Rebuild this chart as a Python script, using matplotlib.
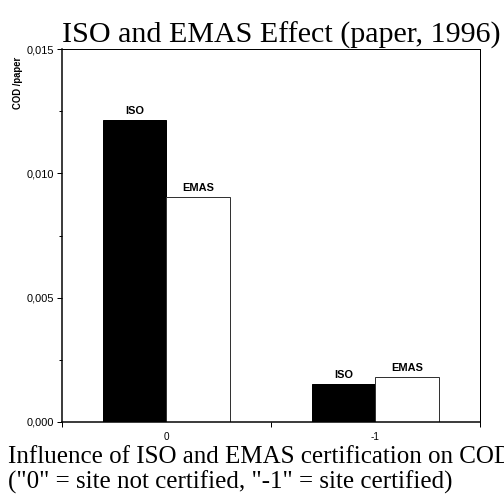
import matplotlib.pyplot as plt
from matplotlib.ticker import FuncFormatter, MultipleLocator

# data
categories = ["0", "-1"]
series_names = ["ISO", "EMAS"]
iso_values = [0.01214, 0.00153]
emas_values = [0.00905, 0.00181]

sans = ["Liberation Sans", "DejaVu Sans"]
serif = ["Liberation Serif", "DejaVu Serif"]

fig = plt.figure(figsize=(7, 7), dpi=72)
ax = fig.add_axes([0.123, 0.1627, 0.829, 0.740])

x = list(range(len(categories)))
w = 0.305
bars_iso = ax.bar([i - w / 2 for i in x], iso_values, width=w, color="black",
                  edgecolor="black", linewidth=1)
bars_emas = ax.bar([i + w / 2 for i in x], emas_values, width=w, color="white",
                   edgecolor="#333333", linewidth=1)

for bars, name in ((bars_iso, series_names[0]), (bars_emas, series_names[1])):
    for b in bars:
        ax.annotate(name, (b.get_x() + b.get_width() / 2, b.get_height()),
                    xytext=(0, 4), textcoords="offset points",
                    ha="center", va="bottom", fontsize=11, fontweight="bold",
                    family=sans)

ax.set_xlim(-0.5, 1.5)
ax.set_ylim(0, 0.015)

# x ticks at the category boundaries, labels in the middle
ax.set_xticks([-0.5, 0.5, 1.5])
ax.set_xticklabels([])
ax.set_xticks(x, minor=True)
ax.set_xticklabels(categories, minor=True, fontsize=10, family=sans)
ax.tick_params(axis="x", which="major", direction="out", length=5, width=1)
ax.tick_params(axis="x", which="minor", length=0, pad=10)

ax.yaxis.set_major_locator(MultipleLocator(0.005))
ax.yaxis.set_minor_locator(MultipleLocator(0.0025))
ax.yaxis.set_major_formatter(FuncFormatter(lambda v, p: f"{v:.3f}".replace(".", ",")))
ax.tick_params(axis="y", which="major", direction="out", length=5, width=1,
               labelsize=11, pad=3)
ax.tick_params(axis="y", which="minor", direction="out", length=3, width=1)
for lab in ax.get_yticklabels():
    lab.set_family(sans)

for s in ax.spines.values():
    s.set_linewidth(1)
ax.spines["left"].set_linewidth(1.5)
ax.spines["bottom"].set_linewidth(1.5)

fig.text(18 / 504, 1 - 83 / 504, "COD /paper", rotation=90, ha="center",
         va="center", fontsize=9.5, fontweight="bold",
         family=["Liberation Sans Narrow", "Liberation Sans", "DejaVu Sans"])
fig.text(281 / 504, 1 - 35 / 504, "ISO and EMAS Effect (paper, 1996)",
         ha="center", va="center", fontsize=30, family=serif)
fig.text(8 / 504, 1 - 457 / 504, "Influence of ISO and EMAS certification on COD",
         ha="left", va="center", fontsize=25, family=serif)
fig.text(8 / 504, 1 - 482 / 504, '("0" = site not certified, "-1" = site certified)',
         ha="left", va="center", fontsize=25, family=serif)

fig.savefig("out.png", dpi=72)
